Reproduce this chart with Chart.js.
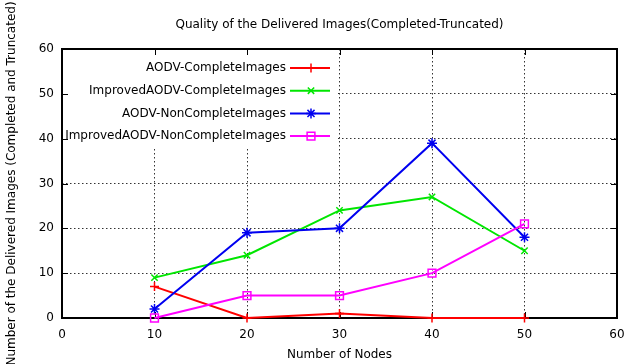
<!DOCTYPE html>
<html>
<head>
<meta charset="utf-8">
<script src="https://cdn.jsdelivr.net/npm/chart.js@4.4.0/dist/chart.umd.min.js"></script>
<style>
  html, body { margin: 0; padding: 0; background: #fff; }
  #wrap { width: 643px; height: 364px; }
</style>
</head>
<body>
<div id="wrap"><canvas id="myChart"></canvas></div>
<script>
//******Datos******
var nodos = [10, 20, 30, 40, 50];
var aodvCompletas = [7, 0, 1, 0, 0];
var improvedCompletas = [9, 14, 24, 27, 15];
var aodvNoCompletas = [2, 19, 20, 39, 18];
var improvedNoCompletas = [0, 5, 5, 10, 21];
var ticksX = [0, 10, 20, 30, 40, 50, 60];
var ticksY = [0, 10, 20, 30, 40, 50, 60];
var nombres = ['AODV-CompleteImages', 'ImprovedAODV-CompleteImages', 'AODV-NonCompleteImages', 'ImprovedAODV-NonCompleteImages'];
var titulo = 'Quality of the Delivered Images(Completed-Truncated)';
var tituloX = 'Number of Nodes';
var tituloY = 'Number of the Delivered Images (Completed and Truncated)';

var fuente = 'DejaVu Sans';

puntos = function(valores) {
    return nodos.map(function(n, i) { return {x: n, y: valores[i]}; });
}

var series = [
    {label: nombres[0], data: puntos(aodvCompletas), color: '#ff0000', estilo: 'cross', radio: 4.5, order: 4},
    {label: nombres[1], data: puntos(improvedCompletas), color: '#00e600', estilo: 'crossRot', radio: 4.5, order: 3},
    {label: nombres[2], data: puntos(aodvNoCompletas), color: '#0000f0', estilo: 'star', radio: 5, order: 2},
    {label: nombres[3], data: puntos(improvedNoCompletas), color: '#ff00ff', estilo: 'rect', radio: 5.5, order: 1}
];

/******Marco, ticks, leyenda y títulos******/
var marco = {
    id: 'marco',
    beforeDatasetsDraw: function(chart) {
        var ctx = chart.ctx, a = chart.chartArea;
        var sx = chart.scales.x, sy = chart.scales.y;
        ctx.save();
        // fondo blanco de la leyenda
        ctx.fillStyle = '#fff';
        ctx.fillRect(a.left, a.top, 275, 100);
        // ticks hacia adentro
        ctx.strokeStyle = '#000';
        ctx.lineWidth = 1;
        ctx.beginPath();
        ticksX.forEach(function(v) {
            var px = Math.round(sx.getPixelForValue(v)) + 0.5;
            ctx.moveTo(px, a.top); ctx.lineTo(px, a.top + 6);
            ctx.moveTo(px, a.bottom); ctx.lineTo(px, a.bottom - 6);
        });
        ticksY.forEach(function(v) {
            var py = Math.round(sy.getPixelForValue(v)) + 0.5;
            ctx.moveTo(a.left, py); ctx.lineTo(a.left + 6, py);
            ctx.moveTo(a.right, py); ctx.lineTo(a.right - 6, py);
        });
        ctx.stroke();
        ctx.lineWidth = 2;
        ctx.strokeRect(a.left, a.top, a.right - a.left, a.bottom - a.top);
        ctx.restore();
    },
    afterDatasetsDraw: function(chart) {
        var ctx = chart.ctx, a = chart.chartArea;
        ctx.save();
        ctx.font = '12px "' + fuente + '"';
        ctx.textAlign = 'right';
        ctx.textBaseline = 'middle';
        series.forEach(function(s, i) {
            var y = a.top + 19 + i * 22.7;
            ctx.fillStyle = '#000';
            ctx.fillText(s.label, a.left + 224, y);
            ctx.strokeStyle = s.color;
            ctx.lineWidth = 2;
            ctx.beginPath();
            ctx.moveTo(a.left + 228, y);
            ctx.lineTo(a.left + 268, y);
            ctx.stroke();
            ctx.fillStyle = 'rgba(0,0,0,0)';
            ctx.lineWidth = 1.5;
            Chart.helpers.drawPoint(ctx, {pointStyle: s.estilo, radius: s.radio, rotation: 0, borderWidth: 1.5}, a.left + 249, y);
        });
        ctx.restore();
    },
    afterDraw: function(chart) {
        var ctx = chart.ctx, a = chart.chartArea;
        ctx.save();
        ctx.fillStyle = '#000';
        ctx.font = '12px "' + fuente + '"';
        ctx.textAlign = 'center';
        ctx.textBaseline = 'middle';
        ctx.fillText(titulo, (a.left + a.right) / 2, 25);
        ctx.translate(12, (a.top + a.bottom) / 2);
        ctx.rotate(-Math.PI / 2);
        ctx.fillText(tituloY, 0, 0);
        ctx.restore();
    }
};

var ctx = document.getElementById('myChart').getContext('2d');
var myChart = new Chart(ctx, {
    type: 'line',
    data: {
        datasets: series.map(function(s) {
            return {
                label: s.label,
                data: s.data,
                borderColor: s.color,
                backgroundColor: 'rgba(0,0,0,0)',
                borderWidth: 2,
                pointStyle: s.estilo,
                pointRadius: s.radio,
                pointBorderWidth: 1.5,
                pointBorderColor: s.color,
                pointBackgroundColor: 'rgba(0,0,0,0)',
                tension: 0,
                clip: false,
                order: s.order
            };
        })
    },
    options: {
        responsive: true,
        maintainAspectRatio: false,
        animation: false,
        layout: {
            padding: {top: 49, right: 26, bottom: 0, left: 0}
        },
        scales: {
            x: {
                type: 'linear',
                min: 0,
                max: 60,
                afterBuildTicks: function(s) { s.ticks = ticksX.map(function(v) { return {value: v}; }); },
                afterFit: function(s) { s.height = 46; },
                grid: {color: '#333', lineWidth: 1, drawTicks: false},
                border: {display: false, dash: [1.5, 2.5]},
                ticks: {color: '#000', padding: 10, maxRotation: 0, autoSkip: false, font: {family: fuente, size: 12}},
                title: {display: true, text: tituloX, color: '#000', font: {family: fuente, size: 12}, padding: {top: 0, bottom: 2}}
            },
            y: {
                min: 0,
                max: 60,
                afterBuildTicks: function(s) { s.ticks = ticksY.map(function(v) { return {value: v}; }); },
                afterFit: function(s) { s.width = 62; },
                grid: {color: '#333', lineWidth: 1, drawTicks: false},
                border: {display: false, dash: [1.5, 2.5]},
                ticks: {color: '#000', padding: 8, font: {family: fuente, size: 12}}
            }
        },
        plugins: {
            legend: {display: false},
            tooltip: {enabled: false}
        }
    },
    plugins: [marco]
});
</script>
</body>
</html>
